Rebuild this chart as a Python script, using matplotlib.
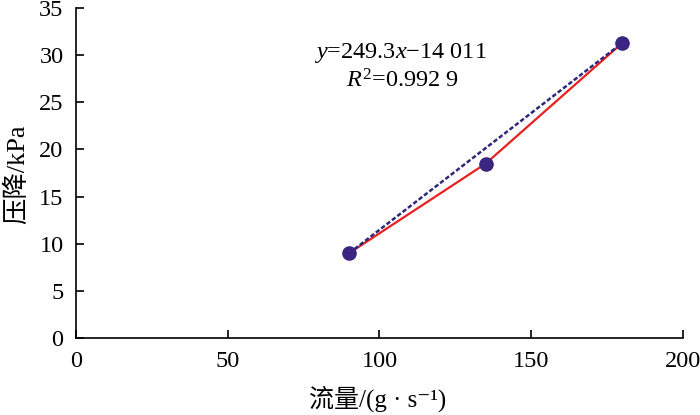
import matplotlib.pyplot as plt
import numpy as np

plt.rcParams['font.family'] = ['Liberation Serif', 'Noto Sans CJK SC', 'DejaVu Sans']
plt.rcParams['mathtext.fontset'] = 'custom'
plt.rcParams['mathtext.rm'] = 'Liberation Serif'
plt.rcParams['mathtext.it'] = 'Liberation Serif:italic'

# 数据
flow = [90, 135, 180]          # g/s
pressure = [9.0, 18.5, 31.3]   # kPa
eq_text = '$y$=249.3$x$\u221214 011'
r2_text = '$R^2$=0.992 9'

fig = plt.figure(figsize=(7, 4.15), dpi=100)
ax = fig.add_axes([0.1086, 0.1855, 0.867, 0.795])

# 实测曲线
ax.plot(flow, pressure, color='#e8201e', lw=1.6, zorder=2)
ax.plot(flow, pressure, 'o', color='#3b2580', ms=9.5, zorder=3)

# 趋势线
ax.plot([flow[0], flow[-1]], [pressure[0], pressure[-1]], color='#2e2a7a',
        lw=1.8, ls=(0, (1.8, 0.9)), zorder=2.5)

ax.text(106.8, 30.2, eq_text, fontsize=17.5, ha='center', va='center')
ax.text(107.7, 27.3, r2_text, fontsize=17.5, ha='center', va='center')

ax.set_xlim(0, 200)
ax.set_ylim(0, 35)
ax.set_xticks(np.arange(0, 201, 50))
ax.set_yticks(np.arange(0, 36, 5))
ax.spines['top'].set_visible(False)
ax.spines['right'].set_visible(False)
for s in ('left', 'bottom'):
    ax.spines[s].set_linewidth(1.2)
ax.tick_params(direction='in', length=6, width=1.2, labelsize=17.5, pad=9)

ax.set_xlabel('流量/(g · s\u207b\u00b9)', fontsize=18)
ax.set_ylabel('压降/kPa', fontsize=19)
ax.xaxis.set_label_coords(0.4975, -0.145)
ax.yaxis.set_label_coords(-0.078, 0.495)

fig.savefig('out.png', dpi=100)
